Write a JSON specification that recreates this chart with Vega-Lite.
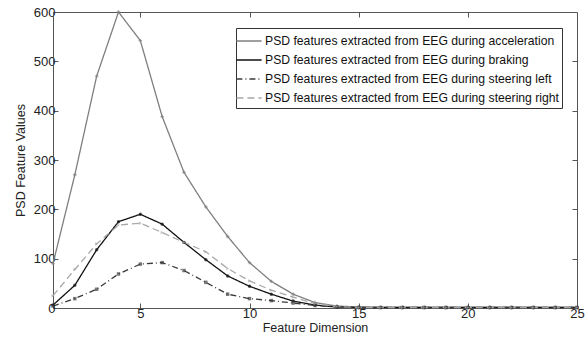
{
  "$schema": "https://vega.github.io/schema/vega-lite/v6.json",
  "width": 524,
  "height": 296,
  "autosize": {"type": "none"},
  "padding": {"left": 53, "top": 12, "right": 8, "bottom": 33},
  "background": "white",
  "config": {
    "font": "Liberation Sans",
    "view": {"stroke": "#555555", "strokeWidth": 1},
    "axis": {"grid": false, "domainColor": "#555555", "tickColor": "#555555", "labelColor": "#222222", "titleColor": "#222222", "labelFont": "Liberation Sans", "titleFont": "Liberation Sans", "titleFontWeight": "normal"},
    "legend": {"strokeColor": "#333333", "fillColor": "white", "padding": 3, "labelFont": "Liberation Sans", "labelFontSize": 12.2, "labelColor": "#111111", "symbolType": "M-1.4,0H1.4", "symbolSize": 324, "symbolStrokeWidth": 1.3, "rowPadding": 2, "labelOffset": 6, "labelLimit": 400}
  },
  "datasets": {
    "psd": [
      {"x":1,"s":"PSD features extracted from EEG during acceleration","v":90},
      {"x":2,"s":"PSD features extracted from EEG during acceleration","v":270},
      {"x":3,"s":"PSD features extracted from EEG during acceleration","v":470},
      {"x":4,"s":"PSD features extracted from EEG during acceleration","v":600},
      {"x":5,"s":"PSD features extracted from EEG during acceleration","v":542},
      {"x":6,"s":"PSD features extracted from EEG during acceleration","v":388},
      {"x":7,"s":"PSD features extracted from EEG during acceleration","v":275},
      {"x":8,"s":"PSD features extracted from EEG during acceleration","v":205},
      {"x":9,"s":"PSD features extracted from EEG during acceleration","v":145},
      {"x":10,"s":"PSD features extracted from EEG during acceleration","v":92},
      {"x":11,"s":"PSD features extracted from EEG during acceleration","v":54},
      {"x":12,"s":"PSD features extracted from EEG during acceleration","v":28},
      {"x":13,"s":"PSD features extracted from EEG during acceleration","v":11},
      {"x":14,"s":"PSD features extracted from EEG during acceleration","v":4},
      {"x":15,"s":"PSD features extracted from EEG during acceleration","v":2},
      {"x":16,"s":"PSD features extracted from EEG during acceleration","v":1},
      {"x":17,"s":"PSD features extracted from EEG during acceleration","v":1},
      {"x":18,"s":"PSD features extracted from EEG during acceleration","v":1},
      {"x":19,"s":"PSD features extracted from EEG during acceleration","v":1},
      {"x":20,"s":"PSD features extracted from EEG during acceleration","v":1},
      {"x":21,"s":"PSD features extracted from EEG during acceleration","v":1},
      {"x":22,"s":"PSD features extracted from EEG during acceleration","v":1},
      {"x":23,"s":"PSD features extracted from EEG during acceleration","v":1},
      {"x":24,"s":"PSD features extracted from EEG during acceleration","v":1},
      {"x":25,"s":"PSD features extracted from EEG during acceleration","v":1},
      {"x":1,"s":"PSD features extracted from EEG during braking","v":6},
      {"x":2,"s":"PSD features extracted from EEG during braking","v":46},
      {"x":3,"s":"PSD features extracted from EEG during braking","v":118},
      {"x":4,"s":"PSD features extracted from EEG during braking","v":175},
      {"x":5,"s":"PSD features extracted from EEG during braking","v":190},
      {"x":6,"s":"PSD features extracted from EEG during braking","v":170},
      {"x":7,"s":"PSD features extracted from EEG during braking","v":133},
      {"x":8,"s":"PSD features extracted from EEG during braking","v":98},
      {"x":9,"s":"PSD features extracted from EEG during braking","v":65},
      {"x":10,"s":"PSD features extracted from EEG during braking","v":44},
      {"x":11,"s":"PSD features extracted from EEG during braking","v":28},
      {"x":12,"s":"PSD features extracted from EEG during braking","v":14},
      {"x":13,"s":"PSD features extracted from EEG during braking","v":6},
      {"x":14,"s":"PSD features extracted from EEG during braking","v":2},
      {"x":15,"s":"PSD features extracted from EEG during braking","v":1},
      {"x":16,"s":"PSD features extracted from EEG during braking","v":1},
      {"x":17,"s":"PSD features extracted from EEG during braking","v":1},
      {"x":18,"s":"PSD features extracted from EEG during braking","v":1},
      {"x":19,"s":"PSD features extracted from EEG during braking","v":1},
      {"x":20,"s":"PSD features extracted from EEG during braking","v":1},
      {"x":21,"s":"PSD features extracted from EEG during braking","v":1},
      {"x":22,"s":"PSD features extracted from EEG during braking","v":1},
      {"x":23,"s":"PSD features extracted from EEG during braking","v":1},
      {"x":24,"s":"PSD features extracted from EEG during braking","v":1},
      {"x":25,"s":"PSD features extracted from EEG during braking","v":1},
      {"x":1,"s":"PSD features extracted from EEG during steering left","v":4},
      {"x":2,"s":"PSD features extracted from EEG during steering left","v":19},
      {"x":3,"s":"PSD features extracted from EEG during steering left","v":38},
      {"x":4,"s":"PSD features extracted from EEG during steering left","v":69},
      {"x":5,"s":"PSD features extracted from EEG during steering left","v":89},
      {"x":6,"s":"PSD features extracted from EEG during steering left","v":92},
      {"x":7,"s":"PSD features extracted from EEG during steering left","v":76},
      {"x":8,"s":"PSD features extracted from EEG during steering left","v":52},
      {"x":9,"s":"PSD features extracted from EEG during steering left","v":28},
      {"x":10,"s":"PSD features extracted from EEG during steering left","v":19},
      {"x":11,"s":"PSD features extracted from EEG during steering left","v":15},
      {"x":12,"s":"PSD features extracted from EEG during steering left","v":10},
      {"x":13,"s":"PSD features extracted from EEG during steering left","v":5},
      {"x":14,"s":"PSD features extracted from EEG during steering left","v":2},
      {"x":15,"s":"PSD features extracted from EEG during steering left","v":1},
      {"x":16,"s":"PSD features extracted from EEG during steering left","v":1},
      {"x":17,"s":"PSD features extracted from EEG during steering left","v":1},
      {"x":18,"s":"PSD features extracted from EEG during steering left","v":1},
      {"x":19,"s":"PSD features extracted from EEG during steering left","v":1},
      {"x":20,"s":"PSD features extracted from EEG during steering left","v":1},
      {"x":21,"s":"PSD features extracted from EEG during steering left","v":1},
      {"x":22,"s":"PSD features extracted from EEG during steering left","v":1},
      {"x":23,"s":"PSD features extracted from EEG during steering left","v":1},
      {"x":24,"s":"PSD features extracted from EEG during steering left","v":1},
      {"x":25,"s":"PSD features extracted from EEG during steering left","v":1},
      {"x":1,"s":"PSD features extracted from EEG during steering right","v":25},
      {"x":2,"s":"PSD features extracted from EEG during steering right","v":78},
      {"x":3,"s":"PSD features extracted from EEG during steering right","v":130},
      {"x":4,"s":"PSD features extracted from EEG during steering right","v":168},
      {"x":5,"s":"PSD features extracted from EEG during steering right","v":172},
      {"x":6,"s":"PSD features extracted from EEG during steering right","v":153},
      {"x":7,"s":"PSD features extracted from EEG during steering right","v":133},
      {"x":8,"s":"PSD features extracted from EEG during steering right","v":114},
      {"x":9,"s":"PSD features extracted from EEG during steering right","v":80},
      {"x":10,"s":"PSD features extracted from EEG during steering right","v":55},
      {"x":11,"s":"PSD features extracted from EEG during steering right","v":36},
      {"x":12,"s":"PSD features extracted from EEG during steering right","v":22},
      {"x":13,"s":"PSD features extracted from EEG during steering right","v":9},
      {"x":14,"s":"PSD features extracted from EEG during steering right","v":3},
      {"x":15,"s":"PSD features extracted from EEG during steering right","v":1},
      {"x":16,"s":"PSD features extracted from EEG during steering right","v":1},
      {"x":17,"s":"PSD features extracted from EEG during steering right","v":1},
      {"x":18,"s":"PSD features extracted from EEG during steering right","v":1},
      {"x":19,"s":"PSD features extracted from EEG during steering right","v":1},
      {"x":20,"s":"PSD features extracted from EEG during steering right","v":1},
      {"x":21,"s":"PSD features extracted from EEG during steering right","v":1},
      {"x":22,"s":"PSD features extracted from EEG during steering right","v":1},
      {"x":23,"s":"PSD features extracted from EEG during steering right","v":1},
      {"x":24,"s":"PSD features extracted from EEG during steering right","v":1},
      {"x":25,"s":"PSD features extracted from EEG during steering right","v":1}
    ]
  },
  "data": {"name": "psd"},
  "layer": [
    {
      "mark": {"type": "line", "strokeWidth": 1.3},
      "encoding": {
        "x": {"field": "x", "type": "quantitative", "scale": {"domain": [1, 25], "nice": false, "zero": false},
              "axis": {"title": "Feature Dimension", "values": [5, 10, 15, 20, 25], "tickSize": -5, "labelPadding": 4, "labelFontSize": 13, "titleFontSize": 12.5, "titlePadding": 1, "labelFlush": false}},
        "y": {"field": "v", "type": "quantitative", "scale": {"domain": [0, 600], "nice": false},
              "axis": {"title": "PSD Feature Values", "values": [0, 100, 200, 300, 400, 500, 600], "tickSize": -5, "labelPadding": 3, "labelFontSize": 13, "titleFontSize": 12.5, "titlePadding": 6, "labelFlush": false}},
        "color": {"field": "s", "type": "nominal",
                  "legend": {"title": null, "orient": "none", "legendX": 183, "legendY": 16},
                  "scale": {"domain": ["PSD features extracted from EEG during acceleration", "PSD features extracted from EEG during braking", "PSD features extracted from EEG during steering left", "PSD features extracted from EEG during steering right"],
                            "range": ["#7f7f7f", "#111111", "#3a3a3a", "#a8a8a8"]}},
        "strokeDash": {"field": "s", "type": "nominal",
                  "legend": {"title": null, "orient": "none", "legendX": 183, "legendY": 16},
                  "scale": {"domain": ["PSD features extracted from EEG during acceleration", "PSD features extracted from EEG during braking", "PSD features extracted from EEG during steering left", "PSD features extracted from EEG during steering right"],
                            "range": [[1, 0], [1, 0], [6, 3, 1, 3], [7, 4]]}}
      }
    },
    {
      "mark": {"type": "point", "filled": true, "size": 12},
      "encoding": {
        "x": {"field": "x", "type": "quantitative", "axis": null},
        "y": {"field": "v", "type": "quantitative", "axis": null},
        "color": {"field": "s", "type": "nominal", "legend": null},
        "shape": {"field": "s", "type": "nominal", "legend": null,
                  "scale": {"domain": ["PSD features extracted from EEG during acceleration", "PSD features extracted from EEG during braking", "PSD features extracted from EEG during steering left", "PSD features extracted from EEG during steering right"],
                            "range": ["cross", "circle", "square", "triangle-right"]}}
      }
    },
    {
      "mark": {"type": "point", "opacity": 0},
      "encoding": {
        "x": {"field": "x", "type": "quantitative", "axis": {"orient": "top", "title": null, "labels": false, "domain": false, "values": [5, 10, 15, 20], "tickSize": -5}},
        "y": {"field": "v", "type": "quantitative", "axis": {"orient": "right", "title": null, "labels": false, "domain": false, "values": [100, 200, 300, 400, 500], "tickSize": -5}}
      }
    }
  ],
  "resolve": {"axis": {"x": "independent", "y": "independent"}, "legend": {"color": "independent", "shape": "independent", "strokeDash": "independent"}}
}
